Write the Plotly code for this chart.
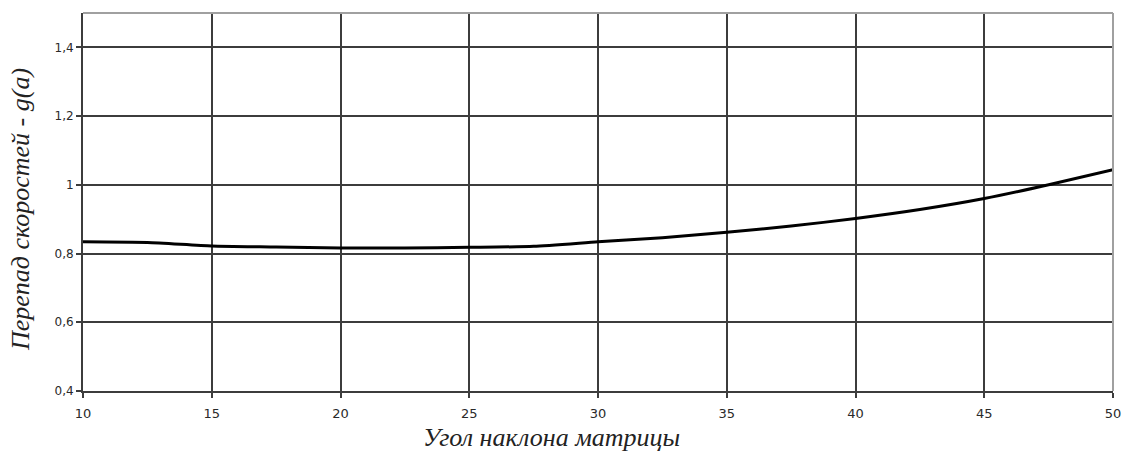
import plotly.graph_objects as go

angle = [10, 12.5, 15, 17.5, 20, 22.5, 25, 27.5, 30, 32.5, 35, 37.5, 40, 42.5, 45, 47.5, 50]
g_val = [0.834, 0.832, 0.822, 0.819, 0.816, 0.816, 0.818, 0.821, 0.834, 0.846, 0.862,
         0.880, 0.902, 0.928, 0.960, 1.000, 1.044]

x_ticks = [10, 15, 20, 25, 30, 35, 40, 45, 50]
y_ticks = [0.4, 0.6, 0.8, 1.0, 1.2, 1.4]
y_tick_text = ["0,4", "0,6", "0,8", "1", "1,2", "1,4"]

x_title = "Угол наклона матрицы"
y_title = "Перепад скоростей - g(a)"

fig = go.Figure()
fig.add_trace(go.Scatter(x=angle, y=g_val, mode="lines",
                         line=dict(color="black", width=3, shape="spline", smoothing=0.6),
                         showlegend=False, hoverinfo="skip"))

grid_col = "#3c3c3c"
title_font = dict(family="Liberation Serif", size=26, color="#222222", style="italic")
fig.update_layout(
    width=1124, height=455,
    margin=dict(l=83, r=11, t=13, b=64),
    paper_bgcolor="white", plot_bgcolor="white",
    font=dict(family="DejaVu Sans", color="#333333", size=12),
    xaxis=dict(range=[10, 50], tickvals=x_ticks, showgrid=True, gridcolor=grid_col, gridwidth=2,
               showline=True, linecolor=grid_col, linewidth=2, ticks="outside", ticklen=5,
               tickcolor=grid_col, tickwidth=2, zeroline=False, automargin=False,
               ticklabelstandoff=4,
               tickfont=dict(family="DejaVu Sans", size=13, color="#2a2a2a")),
    yaxis=dict(range=[0.4, 1.5], tickvals=y_ticks, ticktext=y_tick_text, showgrid=True,
               gridcolor=grid_col, gridwidth=2, showline=True, linecolor=grid_col, linewidth=2,
               ticks="outside", ticklen=5, tickcolor=grid_col, tickwidth=2, zeroline=False,
               automargin=False,
               tickfont=dict(family="DejaVu Sans", size=12, color="#2a2a2a")),
    shapes=[
        dict(type="line", xref="paper", yref="paper", x0=0, x1=1, y0=1, y1=1,
             line=dict(color="#a0a0a0", width=2)),
        dict(type="line", xref="paper", yref="paper", x0=1, x1=1, y0=0, y1=1,
             line=dict(color="#a0a0a0", width=2)),
    ],
    annotations=[
        dict(text=x_title, xref="paper", yref="paper", x=(551 - 83) / 1030, y=-46 / 378,
             xanchor="center", yanchor="middle", showarrow=False, font=title_font),
        dict(text=y_title, xref="paper", yref="paper", x=-63 / 1030, y=(391 - 210) / 378,
             xanchor="center", yanchor="middle", textangle=-90, showarrow=False, font=title_font),
    ],
)

fig.write_html("out.html", config={"displayModeBar": False},
               post_script="document.body.style.margin='0';document.body.style.overflow='hidden';")
